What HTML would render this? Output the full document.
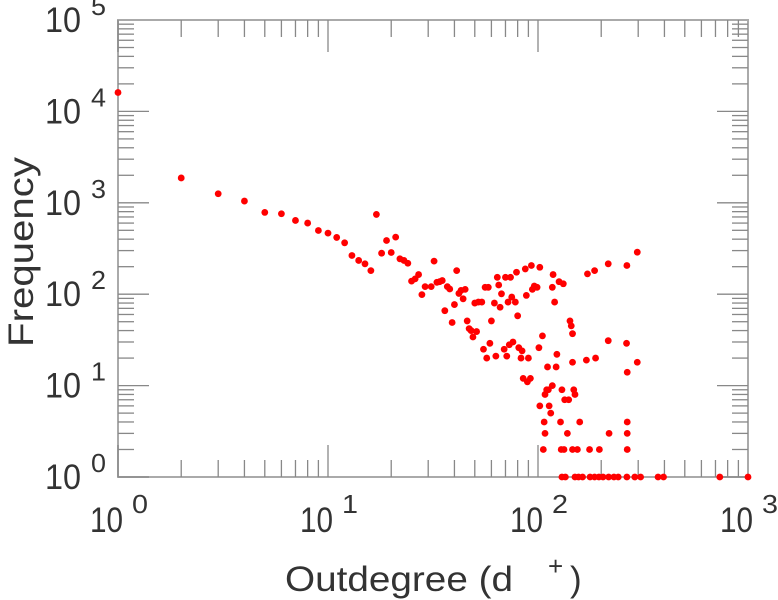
<!DOCTYPE html>
<html><head><meta charset="utf-8"><style>
html,body{margin:0;padding:0;background:#fff;}
svg{display:block;font-family:"Liberation Sans",Arial,sans-serif;}
</style></head><body>
<svg id="chart" width="778" height="600" viewBox="0 0 778 600" xmlns="http://www.w3.org/2000/svg">
<g id="axes"></g>
<g id="marks"></g>
<text x="285" y="591" font-size="35" fill="#333" textLength="228" lengthAdjust="spacingAndGlyphs">Outdegree (d</text>
<text x="548" y="575" font-size="26" fill="#333">+</text>
<text x="570" y="591" font-size="35" fill="#333">)</text>
<text transform="translate(33,252) rotate(-90)" text-anchor="middle" font-size="35" fill="#333" textLength="190" lengthAdjust="spacingAndGlyphs">Frequency</text>
</svg>
<script>
const xTicks = [0, 1, 2, 3];
const yTicks = [0, 1, 2, 3, 4, 5];
const degrees = [1,2,3,4,5,6,7,8,9,10,11,12,13,14,15,16,17,18,19,20,21,22,23,24,25,26,27,28,29,31,32,33,34,35,36,37,38,39,40,41,42,43,44,45,46,47,48,49,51,50,52,54,55,56,57,58,59,60,62,63,64,65,66,67,69,70,71,72,73,74,75,76,78,79,80,81,83,84,85,87,88,89,90,92,93,94,96,99,101,102,105,106,107,108,102,108,110,111,112,113,115,117,118,120,117,123,122,126,128,129,130,132,134,138,140,142,144,146,146,148,150,154,158,170,172,176,186,188,196,216,216,218,265,264,266,266,266,266,297,297,133,146,
130,135,150,156,163,177,186,195,204,217,230,241,265,289,308,373,396,734,1000];
const freqs = [16100,1870,1257,1045,785,759,641,600,498,466,418,365,265,234,215,181,746,281,387,286,421,244,234,218,139,147,164,99,121,121,230,135,137,141,66,121,114,49,77,181,102,110,89,113,51,42,40,34,39,80,82,82,25,119,20,119,29,51,80,21,153,126,72,101,25,153,21,82,28,153,93,30,82,174,58,26,20,24,12,189,97,11,20,12,206,113,123,119,26,197,35,2,4,3,6,8,9,16,9,6,5,10,164,82,119,22,16,137,4,2,9,130,7,3,7,51,45,37,18,9,8,2,4,19,167,2,181,20,2,215,31,3,206,29,14,4,3,2,288,18,2,2,
1,1,1,1,1,1,1,1,1,1,1,1,1,1,1,1,1,1,1];
const X0=118, X1=748, Y0=477, Y1=20;
function xs(v){return X0+(Math.log10(v)-0)/3*(X1-X0);}
function ys(v){return Y0-(Math.log10(v)-0)/5*(Y0-Y1);}
const NS="http://www.w3.org/2000/svg";
const axes=document.getElementById('axes');
const marks=document.getElementById('marks');
function mk(tag,attrs,parent){const e=document.createElementNS(NS,tag);for(const k in attrs)e.setAttribute(k,attrs[k]);parent.appendChild(e);return e;}
const frame=mk('rect',{x:X0,y:Y1,width:X1-X0,height:Y0-Y1,fill:'none',stroke:'#aaa','stroke-width':2},axes);


const tc='#888';
for(let d=0;d<3;d++){for(let m=1;m<10;m++){const v=m*Math.pow(10,d);const x=xs(v);const L=m===1?32:17;
 const t1=mk('line',{x1:x,y1:Y0,x2:x,y2:Y0-L,stroke:tc,'stroke-width':1.3},axes);
 
 
 const t2=mk('line',{x1:x,y1:Y1,x2:x,y2:Y1+L,stroke:tc,'stroke-width':1.3},axes);
 
 }}
for(let d=0;d<5;d++){for(let m=1;m<10;m++){const v=m*Math.pow(10,d);const y=ys(v);const L=m===1?31:16;
 const t1=mk('line',{x1:X0,y1:y,x2:X0+L,y2:y,stroke:tc,'stroke-width':1.3},axes);
 
 
 const t2=mk('line',{x1:X1,y1:y,x2:X1-L,y2:y,stroke:tc,'stroke-width':1.3},axes);
 
 }}
xTicks.forEach(p=>{const x=xs(Math.pow(10,p));
 const t=mk('text',{x:x-28,y:532,'font-size':35,fill:'#333',textLength:33,lengthAdjust:'spacingAndGlyphs'},axes);t.textContent='10';
 
 
 const e=mk('text',{x:x+14,y:513,'font-size':26,fill:'#333',textLength:16,lengthAdjust:'spacingAndGlyphs'},axes);e.textContent=String(p);
 
 });
yTicks.forEach(p=>{const y=ys(Math.pow(10,p));
 const t=mk('text',{x:45,y:y+12,'font-size':35,fill:'#333',textLength:36,lengthAdjust:'spacingAndGlyphs'},axes);t.textContent='10';
 
 
 const e=mk('text',{x:91,y:y-5,'font-size':26,fill:'#333',textLength:15,lengthAdjust:'spacingAndGlyphs'},axes);e.textContent=String(p);
 
 });
degrees.forEach((d,i)=>{const c=mk('circle',{cx:xs(d),cy:ys(freqs[i]),r:3.4,fill:'#ff0000'},marks);
 
 });
</script>
</body></html>
